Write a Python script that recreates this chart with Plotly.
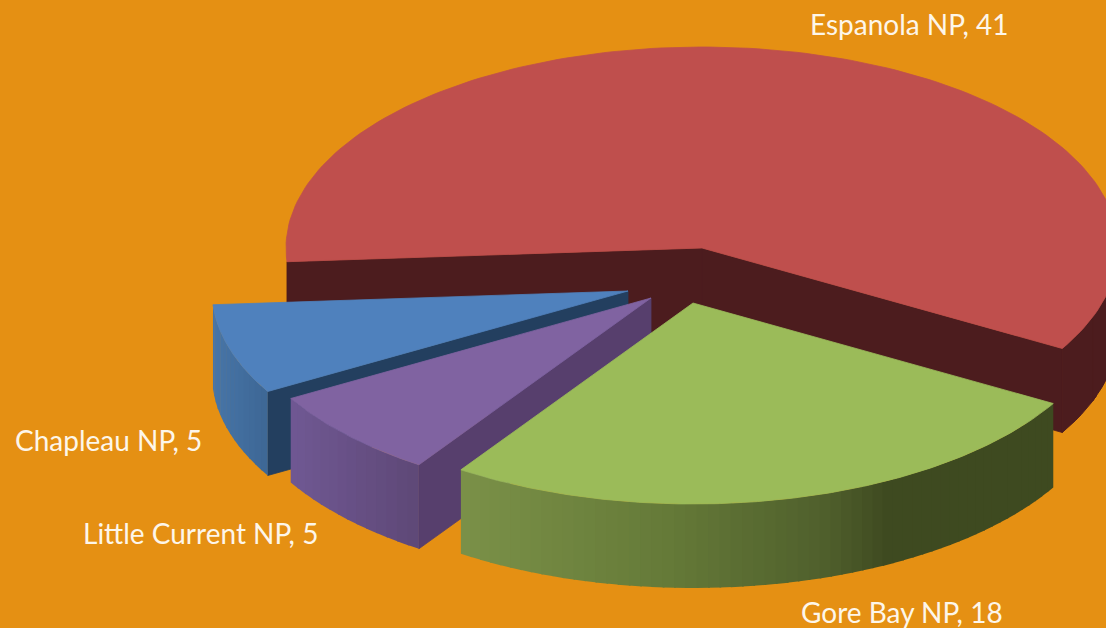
import math
import plotly.graph_objects as go

categories = ["Espanola NP", "Gore Bay NP", "Little Current NP", "Chapleau NP"]
values = [41, 18, 5, 5]

BG = "#e59013"
W, H = 1106, 628
RX, RY, DEPTH = 416, 201, 84
START = -30.0
APEX = {"Espanola NP": (702, 248), "Gore Bay NP": (693, 303),
        "Little Current NP": (651, 298), "Chapleau NP": (628, 291)}
LABEL_POS = {"Espanola NP": (909, 24), "Gore Bay NP": (902, 612),
             "Little Current NP": (200, 533), "Chapleau NP": (108, 440)}
TOP = {"Espanola NP": "#bf4f4d", "Gore Bay NP": "#9bbb59",
       "Little Current NP": "#8063a1", "Chapleau NP": "#4f81bd"}
INNER = {"Espanola NP": "#4c1c1e", "Gore Bay NP": "#3e4a20",
         "Little Current NP": "#573f6d", "Chapleau NP": "#233f5f"}
# outer-wall shading stops: (position along arc from left to right, colour)
OUTER = {"Espanola NP": [(0, "#4c1c1e"), (1, "#4c1c1e")],
         "Gore Bay NP": [(0, "#7b9148"), (0.35, "#657a38"), (0.62, "#4f5f2c"), (0.72, "#3e4a20"), (1, "#3e4a20")],
         "Little Current NP": [(0, "#705893"), (1, "#5e4877")],
         "Chapleau NP": [(0, "#4775a8"), (1, "#3d6795")]}

total = sum(values)
spans = [v / total * 360 for v in values]
# the largest slice runs counter-clockwise from START, the others clockwise
angles = {categories[0]: (START, START + spans[0])}
a = START
for c, s in zip(categories[1:], spans[1:]):
    angles[c] = (a - s, a)
    a -= s


def rim(cat, a0, a1, n=60, drop=0):
    cx, cy = APEX[cat]
    pts = [a0 + (a1 - a0) * i / n for i in range(n + 1)]
    return ([cx + RX * math.cos(math.radians(t)) for t in pts],
            [cy - RY * math.sin(math.radians(t)) + drop for t in pts])


def mix(stops, f):
    for (p0, c0), (p1, c1) in zip(stops, stops[1:]):
        if f <= p1:
            k = (f - p0) / (p1 - p0) if p1 > p0 else 0
            rgb0 = [int(c0[i:i + 2], 16) for i in (1, 3, 5)]
            rgb1 = [int(c1[i:i + 2], 16) for i in (1, 3, 5)]
            return "rgb(%d,%d,%d)" % tuple(round(x + (y - x) * k) for x, y in zip(rgb0, rgb1))
    return stops[-1][1]


fig = go.Figure()


def poly(xs, ys, color, name, lw=0.8):
    fig.add_trace(go.Scatter(x=xs + xs[:1], y=ys + ys[:1], mode="lines", fill="toself",
                             fillcolor=color, line=dict(color=color, width=lw),
                             name=name, hoverinfo="name", showlegend=False))


def inner_wall(cat, t):
    cx, cy = APEX[cat]
    ex = cx + RX * math.cos(math.radians(t))
    ey = cy - RY * math.sin(math.radians(t))
    poly([cx, ex, ex, cx], [cy, ey, ey + DEPTH, cy + DEPTH], INNER[cat], cat)


def outer_wall(cat, a0, a1, strips, lw=0):
    # only the front half (negative angles) is visible
    a1 = min(a1, 0)
    xl = APEX[cat][0] + RX * math.cos(math.radians(a0))
    xr = APEX[cat][0] + RX * math.cos(math.radians(a1))
    for i in range(strips):
        t0 = a0 + (a1 - a0) * i / strips
        t1 = a0 + (a1 - a0) * (i + 1.15) / strips
        t1 = min(t1, a1)
        x0, y0 = rim(cat, t0, t1, n=6)
        x1, y1 = rim(cat, t1, t0, n=6, drop=DEPTH)
        xm = (x0[0] + x0[-1]) / 2
        poly(x0 + x1, y0 + y1, mix(OUTER[cat], (xm - xl) / (xr - xl)), cat, lw=lw)


def top_face(cat, a0, a1):
    cx, cy = APEX[cat]
    xs, ys = rim(cat, a0, a1, n=160)
    poly([cx] + xs, [cy] + ys, TOP[cat], cat)


# back to front: largest slice, then the pulled-out slices
red = categories[0]
r0, r1 = angles[red]
inner_wall(red, r1)
inner_wall(red, r0)
outer_wall(red, r0, r1, 3, lw=1)
top_face(red, r0, r1)

for cat, strips in [(categories[3], 14), (categories[2], 14), (categories[1], 60)]:
    a0, a1 = angles[cat]
    if cat != categories[1]:
        inner_wall(cat, a1)
    outer_wall(cat, a0, a1, strips)
    top_face(cat, a0, a1)

for c, v in zip(categories, values):
    x, y = LABEL_POS[c]
    fig.add_annotation(x=x, y=y, text=f"{c}, {v}", showarrow=False,
                       font=dict(family="Lato", size=28, color="#fdf6ea"))

fig.update_layout(
    width=W, height=H, autosize=False,
    margin=dict(l=0, r=0, t=0, b=0),
    paper_bgcolor=BG, plot_bgcolor=BG,
    xaxis=dict(range=[0, W], visible=False, fixedrange=True),
    yaxis=dict(range=[H, 0], visible=False, fixedrange=True),
    showlegend=False,
)
fig.write_html("out.html", config={"displayModeBar": False},
               post_script="document.body.style.margin='0';document.body.style.background='%s';" % BG)
